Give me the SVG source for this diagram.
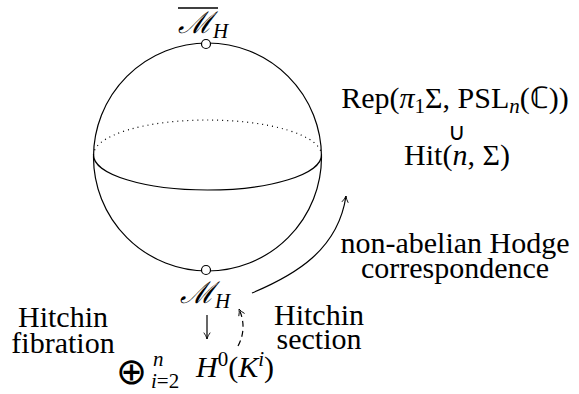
<svg xmlns="http://www.w3.org/2000/svg" width="579" height="394" viewBox="0 0 579 394">
<style>
.ln{fill:none;stroke:#000;stroke-width:1.2}
.pt{fill:#fff;stroke:#000;stroke-width:1.2}
</style>
<defs>
<marker id="ah" viewBox="0 0 10 10" refX="9" refY="5" markerWidth="8" markerHeight="8" markerUnits="userSpaceOnUse" orient="auto">
<path d="M1,1 Q5,4 9,5 Q5,6 1,9" fill="none" stroke="#000" stroke-width="1.1"/>
</marker>
</defs>
<g id="sphere">
<circle class="ln" cx="207.5" cy="157" r="114"/>
<path class="ln" d="M93.5,155 A114,35 0 0 0 321.5,155"/>
<path class="ln" d="M93.5,155 A114,35 0 0 1 321.5,155" stroke-dasharray="1 4"/>
</g>
<g id="top">
<circle class="pt" cx="206" cy="44" r="4.5"/>
<text font-family="Times New Roman, Liberation Serif, serif" font-size="30" font-style="italic" x="178" y="33">ℳ<tspan font-size="21" dy="5">H</tspan></text>
<line x1="178" y1="8" x2="218" y2="8" stroke="#000" stroke-width="1.3"/>
</g>
<g id="bottom">
<circle class="pt" cx="206" cy="270" r="4.5"/>
<text font-family="Times New Roman, Liberation Serif, serif" font-size="30" font-style="italic" x="180" y="303">ℳ<tspan font-size="21" dy="5">H</tspan></text>
</g>
<g id="rep">
<text font-family="Times New Roman, Liberation Serif, serif" font-size="30" x="455" y="108" text-anchor="middle">Rep(<tspan font-style="italic">π</tspan><tspan font-size="21" dy="5">1</tspan><tspan dy="-5">Σ, PSL</tspan><tspan font-style="italic" font-size="21" dy="5">n</tspan><tspan dy="-5">(ℂ))</tspan></text>
<text font-family="Times New Roman, Liberation Serif, serif" font-size="24" x="457" y="140" text-anchor="middle">∪</text>
<text font-family="Times New Roman, Liberation Serif, serif" font-size="30" x="457" y="165" text-anchor="middle">Hit(<tspan font-style="italic">n</tspan>, Σ)</text>
</g>
<g id="base">
<text font-family="Times New Roman, Liberation Serif, serif" font-size="37" x="116" y="384">⊕</text>
<text font-family="Times New Roman, Liberation Serif, serif" font-size="21" font-style="italic" x="153" y="366">n</text>
<text font-family="Times New Roman, Liberation Serif, serif" font-size="21" x="151" y="388"><tspan font-style="italic">i</tspan>=2</text>
<text font-family="Times New Roman, Liberation Serif, serif" font-size="30" x="196" y="377"><tspan font-style="italic">H</tspan><tspan font-size="21" dy="-11">0</tspan><tspan dy="11">(</tspan><tspan font-style="italic">K</tspan><tspan font-style="italic" font-size="21" dy="-11">i</tspan><tspan dy="11">)</tspan></text>
</g>
<g id="labels">
<text font-family="Times New Roman, Liberation Serif, serif" font-size="30" x="63" y="327" text-anchor="middle">Hitchin</text>
<text font-family="Times New Roman, Liberation Serif, serif" font-size="30" x="63" y="353" text-anchor="middle">fibration</text>
<text font-family="Times New Roman, Liberation Serif, serif" font-size="30" x="319" y="325" text-anchor="middle">Hitchin</text>
<text font-family="Times New Roman, Liberation Serif, serif" font-size="30" x="319" y="349" text-anchor="middle">section</text>
<text font-family="Times New Roman, Liberation Serif, serif" font-size="30" x="455" y="253" text-anchor="middle">non-abelian Hodge</text>
<text font-family="Times New Roman, Liberation Serif, serif" font-size="30" x="455" y="278" text-anchor="middle">correspondence</text>
</g>
<g id="connectors">
<path class="ln" d="M207,315 L207,339" marker-end="url(#ah)"/>
<path class="ln" d="M252,293 C295,275 338,250 346,196" marker-end="url(#ah)"/>
<path class="ln" d="M238,346 C244,335 245,322 239,309" stroke-dasharray="6 4" marker-end="url(#ah)"/>
</g>
</svg>
